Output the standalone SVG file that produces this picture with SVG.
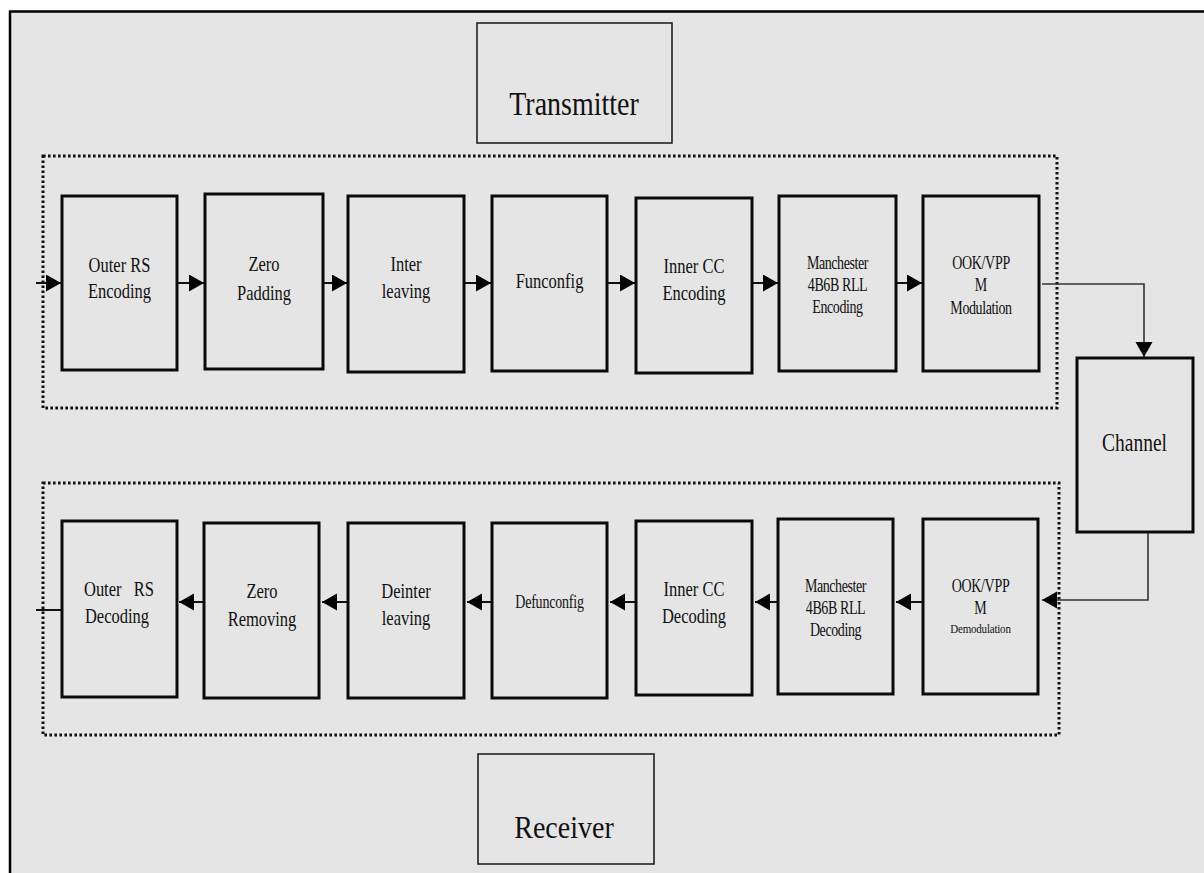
<svg xmlns="http://www.w3.org/2000/svg" width="1204" height="873" viewBox="0 0 1204 873">
  <style>
    .blk { fill: none; stroke: #0a0a0a; stroke-width: 3; }
    .lbl { fill: none; stroke: #222; stroke-width: 1.6; }
    .grp { fill: none; stroke: #111; stroke-width: 3; stroke-dasharray: 2.6 2.4; }
    .t { font-family: "Liberation Serif", "Times New Roman", serif; font-size: 16.5px; fill: #111; text-anchor: middle; }
    .s { font-size: 14px; }
    .xs { font-size: 11px; }
    .big { font-family: "Liberation Serif", "Times New Roman", serif; font-size: 28px; fill: #111; text-anchor: middle; }
    .ch { font-family: "Liberation Serif", "Times New Roman", serif; font-size: 19.5px; fill: #111; text-anchor: middle; }
    .wire { fill: none; stroke: #111; stroke-width: 2; }
    .thin { fill: none; stroke: #333; stroke-width: 1.6; }
  </style>
  <defs>
    <marker id="arrow" markerWidth="16" markerHeight="18" refX="15" refY="8.5" orient="auto" markerUnits="userSpaceOnUse">
      <path d="M0,0 L15,8.5 L0,17 Z" fill="#000"/>
    </marker>
  </defs>

  <!-- page frame -->
  <rect x="0" y="0" width="1204" height="873" fill="#ffffff"/>
  <rect x="10" y="12" width="1194" height="861" fill="#e5e5e5"/>
  <line x1="9" y1="11.5" x2="1204" y2="11.5" stroke="#000" stroke-width="2.5"/>
  <line x1="10" y1="11" x2="10" y2="873" stroke="#000" stroke-width="2.5"/>

  <!-- transmitter / receiver titles -->
  <g id="transmitter">
    <rect class="lbl" x="477" y="23" width="195" height="120"/>
    <text class="big" transform="translate(574,115) scale(1,1.18)">Transmitter</text>
  </g>
  <g id="receiver">
    <rect class="lbl" x="478" y="754" width="176" height="110"/>
    <text class="big" transform="translate(564,838) scale(1,1.13)">Receiver</text>
  </g>

  <!-- dotted group outlines -->
  <g id="tx-group"><rect class="grp" x="43" y="156" width="1014" height="252"/></g>
  <g id="rx-group"><rect class="grp" x="43" y="483" width="1016" height="252"/></g>

  <!-- transmit chain -->
  <g id="outer-rs-enc">
    <rect class="blk" x="62" y="196" width="115" height="174"/>
    <text class="t" transform="translate(119.5,272) scale(1,1.25)">Outer RS</text>
    <text class="t" transform="translate(119.5,298) scale(1,1.25)">Encoding</text>
  </g>
  <g id="zero-padding">
    <rect class="blk" x="205" y="194" width="118" height="175"/>
    <text class="t" transform="translate(264,271) scale(1,1.25)">Zero</text>
    <text class="t" transform="translate(264,300) scale(1,1.25)">Padding</text>
  </g>
  <g id="interleaving">
    <rect class="blk" x="348" y="196" width="116" height="176"/>
    <text class="t" transform="translate(406,271) scale(1,1.25)">Inter</text>
    <text class="t" transform="translate(406,298) scale(1,1.25)">leaving</text>
  </g>
  <g id="funconfig">
    <rect class="blk" x="492" y="196" width="115" height="175"/>
    <text class="t" transform="translate(549.5,288) scale(1,1.25)">Funconfig</text>
  </g>
  <g id="inner-cc-enc">
    <rect class="blk" x="636" y="198" width="116" height="175"/>
    <text class="t" transform="translate(694,273) scale(1,1.25)">Inner CC</text>
    <text class="t" transform="translate(694,300) scale(1,1.25)">Encoding</text>
  </g>
  <g id="rll-enc">
    <rect class="blk" x="779" y="196" width="117" height="175"/>
    <text class="t s" transform="translate(837.5,269) scale(1,1.28)" letter-spacing="-0.4">Manchester</text>
    <text class="t s" transform="translate(837.5,291) scale(1,1.28)" letter-spacing="-0.4">4B6B RLL</text>
    <text class="t s" transform="translate(837.5,313) scale(1,1.28)" letter-spacing="-0.4">Encoding</text>
  </g>
  <g id="ookvppm-mod">
    <rect class="blk" x="923" y="196" width="116" height="175"/>
    <text class="t s" transform="translate(981,269) scale(1,1.28)" letter-spacing="-0.3">OOK/VPP</text>
    <text class="t s" transform="translate(981,291) scale(1,1.28)">M</text>
    <text class="t s" transform="translate(981,314) scale(1,1.28)" letter-spacing="-0.4">Modulation</text>
  </g>

  <!-- channel -->
  <g id="channel">
    <rect class="blk" x="1077" y="358" width="116" height="174"/>
    <text class="ch" transform="translate(1134.5,451) scale(1,1.28)">Channel</text>
  </g>

  <!-- receive chain -->
  <g id="outer-rs-dec">
    <rect class="blk" x="62" y="521" width="115" height="176"/>
    <text class="t" transform="translate(119,596) scale(1,1.25)" xml:space="preserve">Outer   RS</text>
    <text class="t" transform="translate(117,623) scale(1,1.25)">Decoding</text>
  </g>
  <g id="zero-removing">
    <rect class="blk" x="204" y="523" width="115" height="175"/>
    <text class="t" transform="translate(262,598) scale(1,1.25)">Zero</text>
    <text class="t" transform="translate(262,626) scale(1,1.25)">Removing</text>
  </g>
  <g id="deinterleaving">
    <rect class="blk" x="348" y="523" width="116" height="175"/>
    <text class="t" transform="translate(406,598) scale(1,1.25)">Deinter</text>
    <text class="t" transform="translate(406,625) scale(1,1.25)">leaving</text>
  </g>
  <g id="defunconfig">
    <rect class="blk" x="492" y="523" width="115" height="175"/>
    <text class="t s" transform="translate(549.5,608) scale(1,1.28)" letter-spacing="-0.2">Defunconfig</text>
  </g>
  <g id="inner-cc-dec">
    <rect class="blk" x="636" y="521" width="116" height="174"/>
    <text class="t" transform="translate(694,596) scale(1,1.25)">Inner CC</text>
    <text class="t" transform="translate(694,623) scale(1,1.25)">Decoding</text>
  </g>
  <g id="rll-dec">
    <rect class="blk" x="778" y="519" width="115" height="175"/>
    <text class="t s" transform="translate(835.5,592) scale(1,1.28)" letter-spacing="-0.4">Manchester</text>
    <text class="t s" transform="translate(835.5,614) scale(1,1.28)" letter-spacing="-0.4">4B6B RLL</text>
    <text class="t s" transform="translate(835.5,636) scale(1,1.28)" letter-spacing="-0.4">Decoding</text>
  </g>
  <g id="ookvppm-demod">
    <rect class="blk" x="923" y="519" width="115" height="175"/>
    <text class="t s" transform="translate(980.5,592) scale(1,1.28)" letter-spacing="-0.3">OOK/VPP</text>
    <text class="t s" transform="translate(980.5,614) scale(1,1.28)">M</text>
    <text class="t xs" transform="translate(980.5,633) scale(1,1.2)" letter-spacing="-0.2">Demodulation</text>
  </g>

  <!-- connectors -->
  <g id="connectors">
    <line class="wire" x1="36" y1="283" x2="61" y2="283" marker-end="url(#arrow)"/>
    <line class="wire" x1="178" y1="283" x2="204" y2="283" marker-end="url(#arrow)"/>
    <line class="wire" x1="324" y1="283" x2="347" y2="283" marker-end="url(#arrow)"/>
    <line class="wire" x1="465" y1="283" x2="491" y2="283" marker-end="url(#arrow)"/>
    <line class="wire" x1="608" y1="283" x2="635" y2="283" marker-end="url(#arrow)"/>
    <line class="wire" x1="753" y1="283" x2="778" y2="283" marker-end="url(#arrow)"/>
    <line class="wire" x1="897" y1="283" x2="922" y2="283" marker-end="url(#arrow)"/>
    <polyline class="thin" points="1042,284 1144,284 1144,357" marker-end="url(#arrow)"/>
    <polyline class="thin" points="1148,533 1148,600 1042,600" marker-end="url(#arrow)"/>
    <line class="wire" x1="922" y1="602" x2="896" y2="602" marker-end="url(#arrow)"/>
    <line class="wire" x1="777" y1="602" x2="755" y2="602" marker-end="url(#arrow)"/>
    <line class="wire" x1="635" y1="602" x2="610" y2="602" marker-end="url(#arrow)"/>
    <line class="wire" x1="491" y1="602" x2="467" y2="602" marker-end="url(#arrow)"/>
    <line class="wire" x1="347" y1="602" x2="322" y2="602" marker-end="url(#arrow)"/>
    <line class="wire" x1="203" y1="602" x2="179" y2="602" marker-end="url(#arrow)"/>
    <line class="wire" x1="61" y1="610" x2="36" y2="610"/>
  </g>
</svg>
